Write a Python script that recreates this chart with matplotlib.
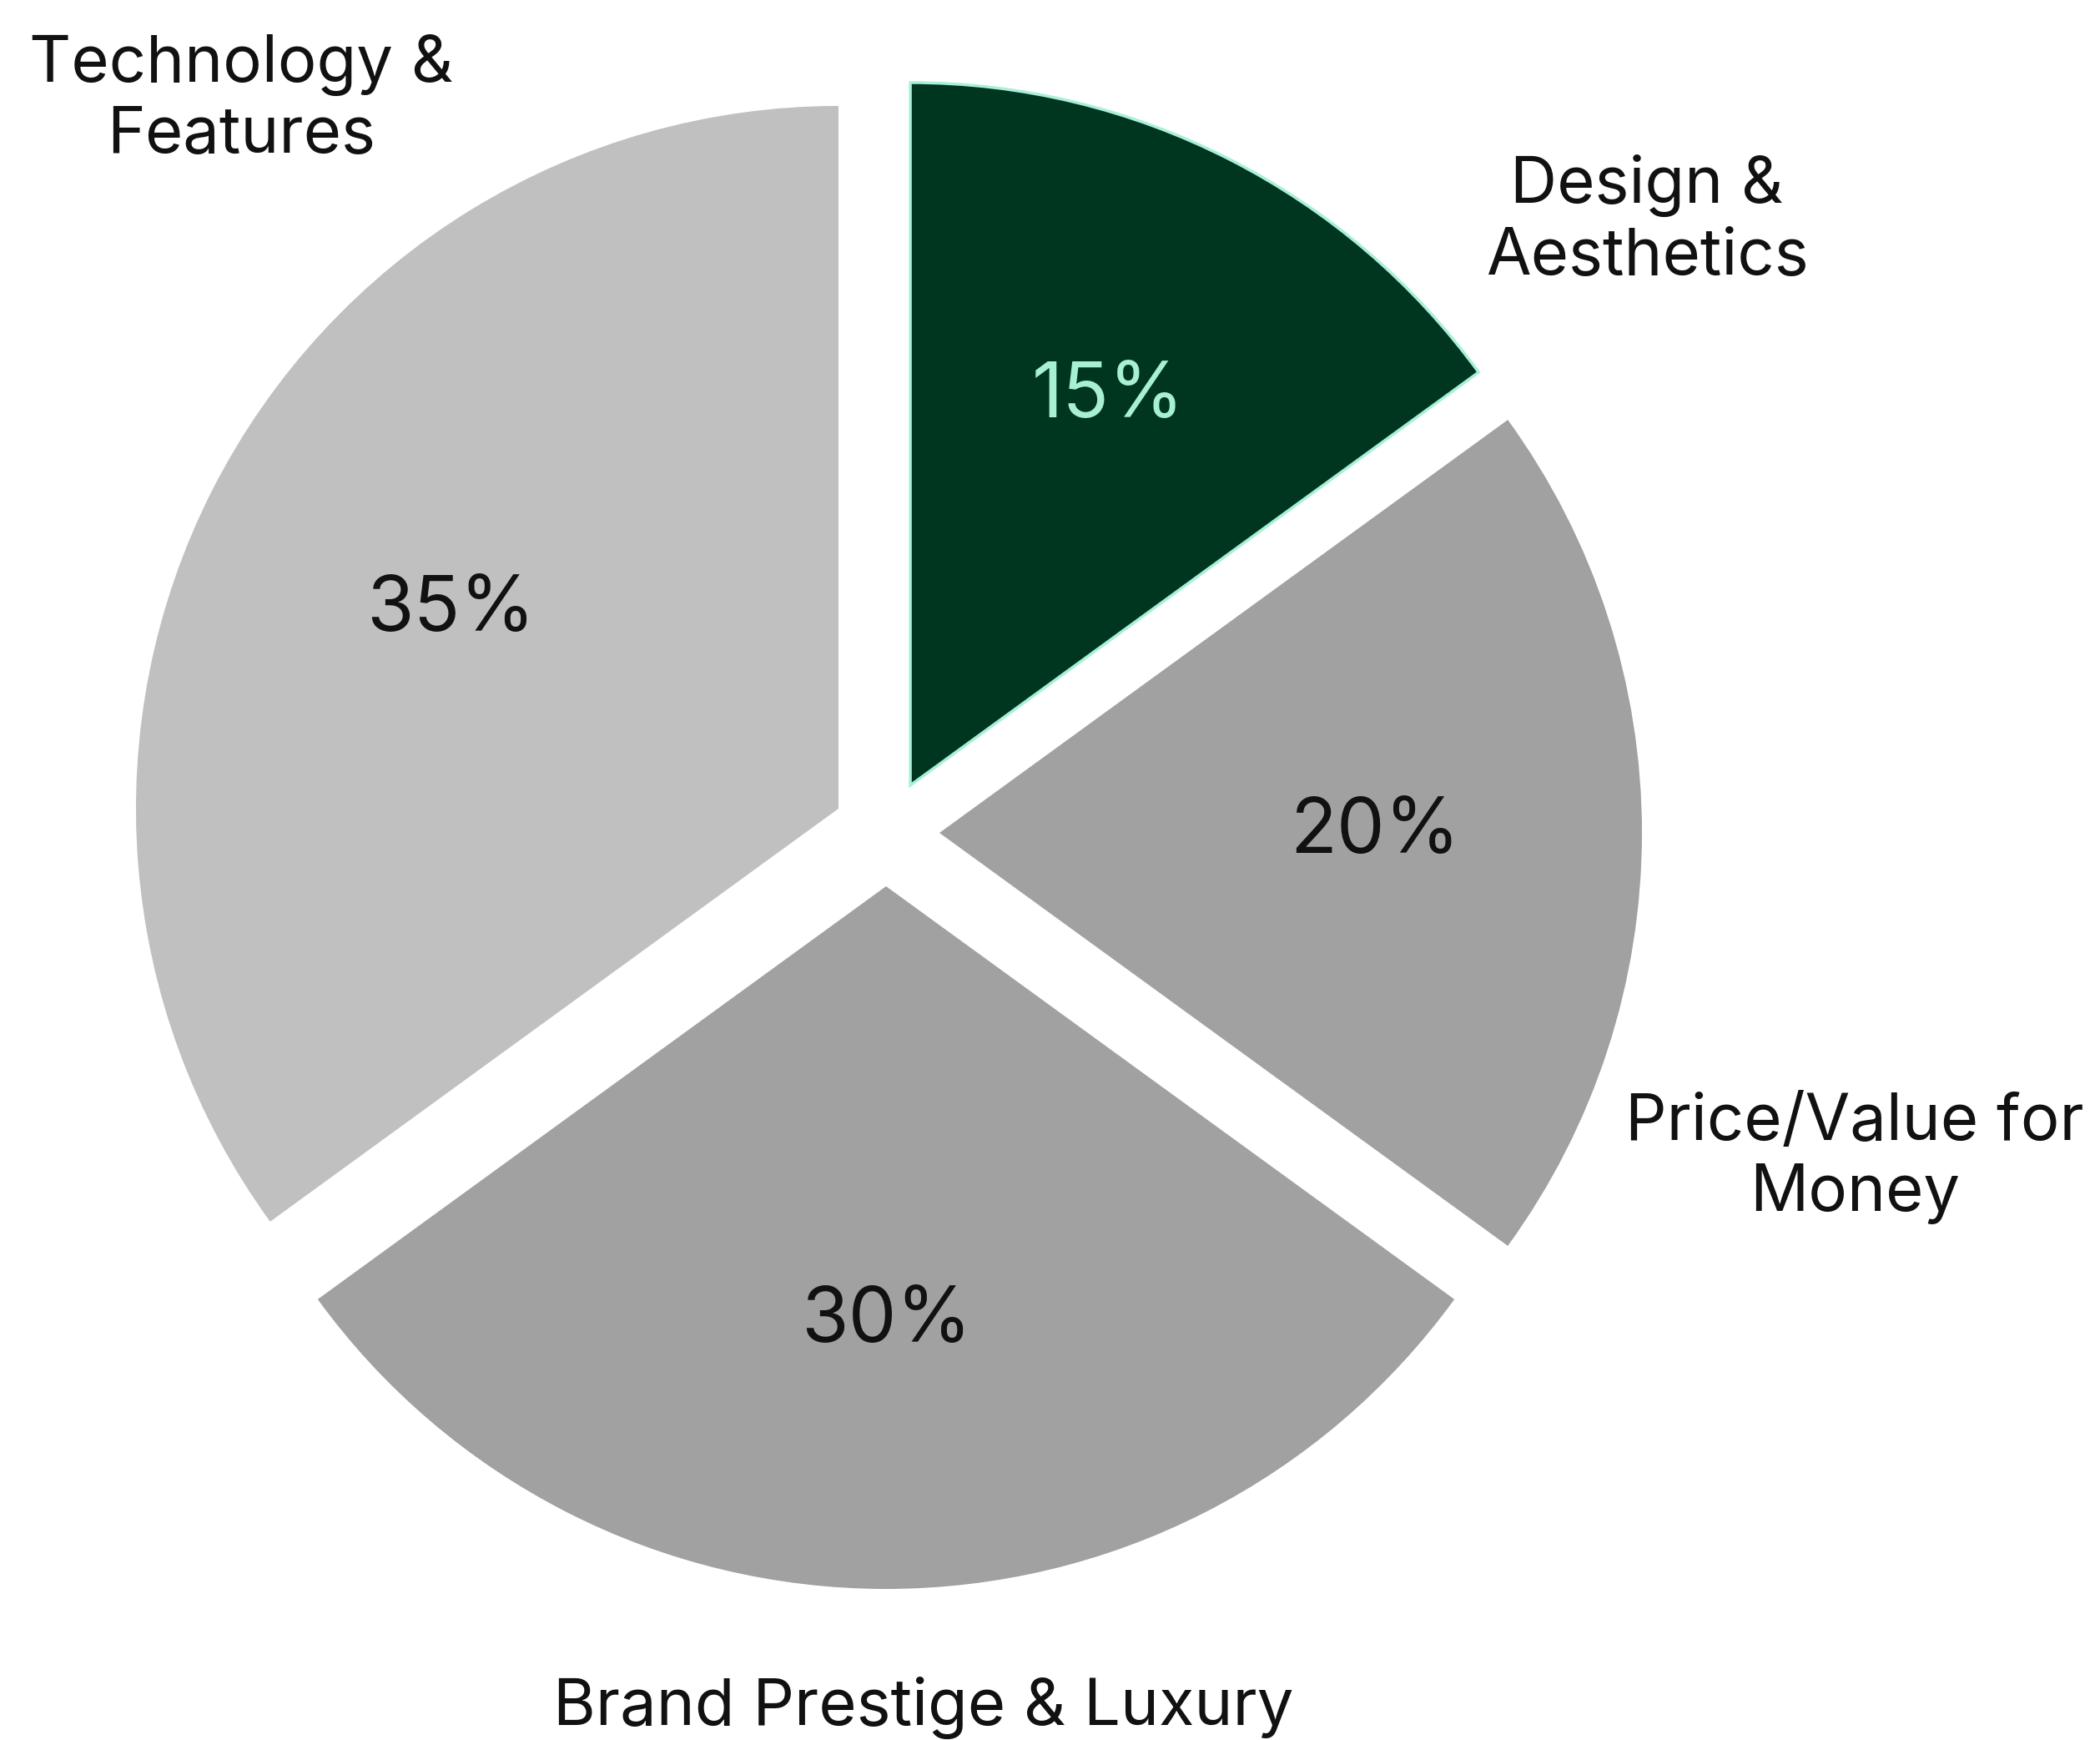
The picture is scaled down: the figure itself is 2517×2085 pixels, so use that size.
import matplotlib.pyplot as plt

plt.rcParams['font.family'] = ['Inter', 'DejaVu Sans']

# Share of buyers naming each factor as the main purchase driver
factors = ["Design &\nAesthetics", "Price/Value for\nMoney",
           "Brand Prestige & Luxury", "Technology &\nFeatures"]
shares = [15, 20, 30, 35]
colors = ["#00351f", "#a1a1a1", "#a1a1a1", "#c0c0c0"]
pct_colors = ["#a8f0d4", "#111111", "#111111", "#111111"]

W, H = 2517, 2085
fig = plt.figure(figsize=(W / 100, H / 100), dpi=100)
ax = fig.add_axes([0, 0, 1, 1])

cx, cy, r = 1062, H - 998, 842
gap = 64  # pie() offsets exploded wedges in data units

wedges, _, pct_texts = ax.pie(
    shares, colors=colors, startangle=90, counterclock=False,
    explode=[gap] * len(shares), radius=r, center=(cx, cy),
    autopct='%d%%', pctdistance=0.62, frame=True,
    wedgeprops=dict(linewidth=0))
ax.set_xlim(0, W)
ax.set_ylim(0, H)
ax.set_aspect('equal')
ax.axis('off')

wedges[0].set_edgecolor("#a8f0d8")
wedges[0].set_linewidth(2.5)

for t, c in zip(pct_texts, pct_colors):
    t.set_color(c)
    t.set_fontsize(66)

# category names sit outside the pie
label_pos = [(1974, H - 265), (2223, H - 1388), (1107, H - 2046), (289, H - 120)]
for name, (x, y) in zip(factors, label_pos):
    ax.text(x, y, name, ha='center', va='center', fontsize=56,
            color="#111111", linespacing=1.2)

fig.savefig("out.png", dpi=100, facecolor="white")
